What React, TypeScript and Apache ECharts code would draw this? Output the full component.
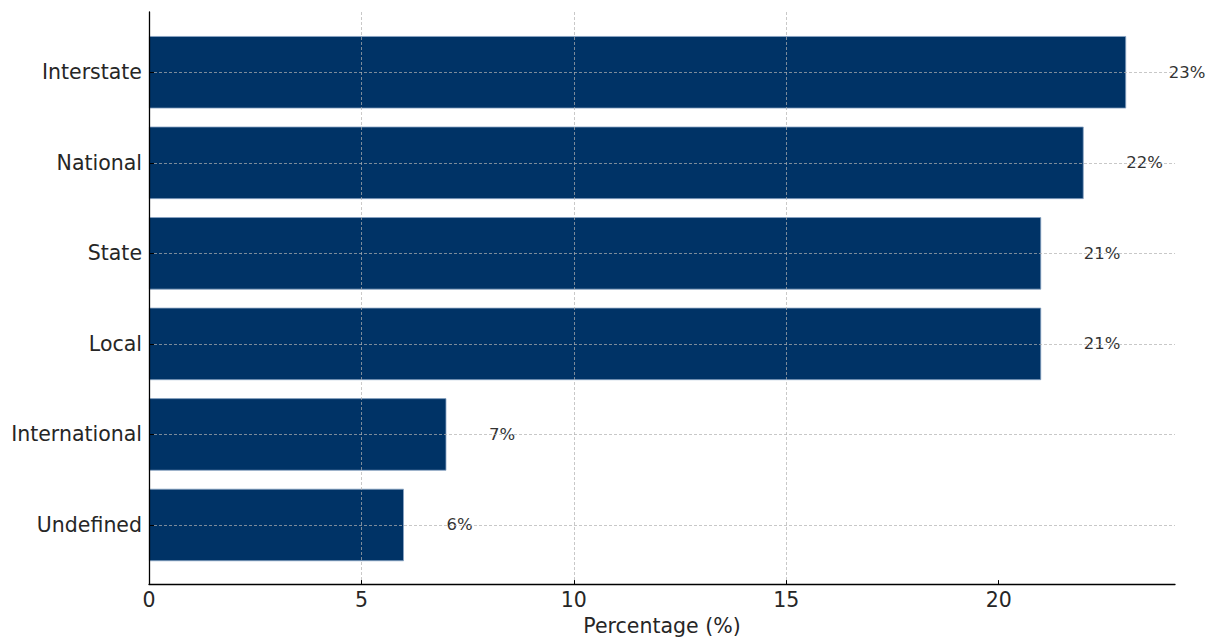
import React, { useEffect, useRef } from "react";
import * as echarts from "echarts";

const categories = ["Interstate", "National", "State", "Local", "International", "Undefined"];
const values = [23, 22, 21, 21, 7, 6];
const xTicks = [0, 5, 10, 15, 20];
const xMax = 24.15;

const FONT = "DejaVu Sans";

export default function App() {
  const ref = useRef<HTMLDivElement>(null);
  useEffect(() => {
    if (!ref.current) return;
    const chart = echarts.init(ref.current, undefined, { renderer: "svg" });
    const gridStyle = { color: "#b0b0b0", opacity: 0.7, width: 1, type: [3, 2] as any };
    chart.setOption({
      animation: false,
      backgroundColor: "#ffffff",
      grid: [
        { left: 149, right: 44, top: 12, bottom: 53.5, containLabel: false },
        { left: 149, right: 44, top: 27, bottom: 70.75, containLabel: false },
      ],
      xAxis: [
        {
          type: "value",
          gridIndex: 0,
          min: 0,
          max: xMax,
          interval: 5,
          z: 5,
          axisLine: { show: true, lineStyle: { color: "#000", width: 1.3 } },
          axisTick: { show: true, inside: true, length: 4, customValues: xTicks, lineStyle: { color: "#000" } },
          axisLabel: {
            fontFamily: FONT,
            fontSize: 20.5,
            color: "#262626",
            margin: 5,
            customValues: xTicks,
            formatter: (v: number) => (xTicks.includes(v) ? String(v) : ""),
          },
          splitLine: { show: true, showMaxLine: false, lineStyle: gridStyle },
          name: "Percentage (%)",
          nameLocation: "middle",
          nameGap: 29,
          nameTextStyle: { fontFamily: FONT, fontSize: 20.5, color: "#262626" },
        },
        {
          type: "value",
          gridIndex: 1,
          min: 0,
          max: xMax,
          show: false,
          splitLine: { show: false },
        },
      ],
      yAxis: [
        {
          type: "value",
          gridIndex: 0,
          min: 0,
          max: 1,
          z: 5,
          axisLine: { show: true, lineStyle: { color: "#000", width: 1.3 } },
          axisTick: { show: false },
          axisLabel: { show: false },
          splitLine: { show: false },
        },
        {
          type: "category",
          gridIndex: 1,
          data: categories,
          inverse: true,
          z: 5,
          axisLine: { show: false },
          axisTick: { show: true, inside: true, length: 5, alignWithLabel: true, lineStyle: { color: "#000" } },
          axisLabel: { fontFamily: FONT, fontSize: 20.5, color: "#262626", margin: 7 },
          splitLine: { show: false },
        },
      ],
      series: [
        {
          type: "bar",
          xAxisIndex: 1,
          yAxisIndex: 1,
          data: values,
          barWidth: "80%",
          itemStyle: { color: "#003366", borderColor: "#8aa4c4", borderWidth: 0.8 },
          label: {
            show: true,
            position: "right",
            distance: 42.5,
            formatter: (p: any) => `${p.value}%`,
            fontFamily: FONT,
            fontSize: 16.5,
            color: "#333333",
          },
          markLine: {
            silent: true,
            symbol: ["none", "none"],
            label: { show: false },
            lineStyle: gridStyle,
            z: 4,
            data: categories.map((c) => ({ yAxis: c })),
          },
        },
      ],
    });
    return () => chart.dispose();
  }, []);
  return <div ref={ref} style={{ position: "fixed", left: 0, top: 0, width: 1219, height: 641 }} />;
}
